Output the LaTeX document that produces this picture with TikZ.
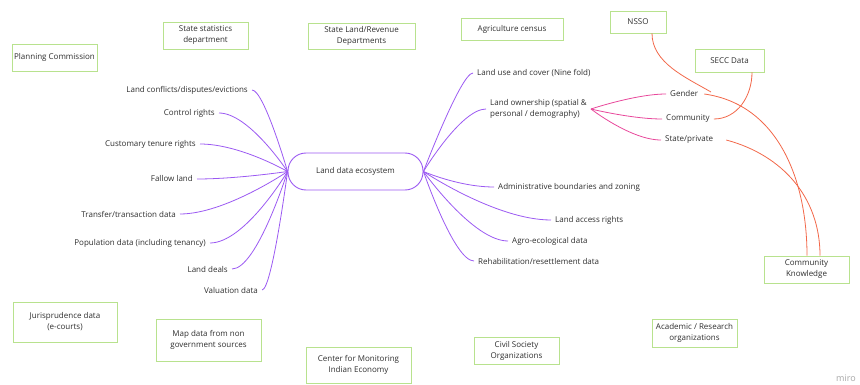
\documentclass[tikz,border=0pt]{standalone}
\usepackage{fontspec}
\setmainfont{Open Sans}
\definecolor{branchpurple}{HTML}{9B59F2}
\definecolor{subpink}{HTML}{E8489B}
\definecolor{linkorange}{HTML}{F2684A}
\definecolor{srcgreen}{HTML}{B8E28E}
\definecolor{inkgray}{HTML}{2E2E2E}

\begin{document}
\begin{tikzpicture}[x=1pt,y=-1pt,
    every node/.style={font=\fontsize{8}{11}\selectfont,text=inkgray},
    source/.style={draw=srcgreen,line width=.9pt,align=center,
      minimum width=85pt,minimum height=27pt,inner sep=1pt},
    leaf/.style={inner sep=4pt,align=left},
    limb/.style={draw=branchpurple,line width=.8pt},
    sublimb/.style={draw=subpink,line width=.8pt},
    link/.style={draw=linkorange,line width=.8pt},
    lefttwig/.style={out=0,in=180,out distance=#1,in distance=0pt},
    righttwig/.style={out=0,in=180,out distance=0pt,in distance=#1}]
      \useasboundingbox (0,0) rectangle (860,385);

      \node[source] (planning) at (54.5,57.5) {Planning Commission};
      \node[source] (statestat) at (205.5,35.5) {State statistics\\department};
      \node[source,minimum width=107pt,minimum height=26pt] (revenue) at (361.5,36)
        {State Land/Revenue\\Departments};
      \node[source,minimum width=102pt,minimum height=22pt] (agcensus) at (512,29) {Agriculture census};
      \node[source,minimum width=56pt,minimum height=22pt] (nsso) at (638,22) {NSSO};
      \node[source,minimum width=69pt,minimum height=23pt] (secc) at (729.5,60.5) {SECC Data};
      \node[source] (ck) at (806.5,269.5) {Community\\Knowledge};
      \node[source,minimum width=104pt,minimum height=40pt] (juris) at (65,322)
        {Jurisprudence data\\(e-courts)};
      \node[source,minimum width=105pt,minimum height=42pt] (mapdata) at (208.5,340)
        {Map data from non\\government sources};
      \node[source,minimum width=105pt,minimum height=36pt] (cmie) at (358.5,365)
        {Center for Monitoring\\Indian Economy};
      \node[source] (civil) at (516.5,350.5) {Civil Society\\Organizations};
      \node[source,minimum height=28pt] (academic) at (694.5,333) {Academic / Research\\organizations};

      \node[draw=branchpurple,line width=.9pt,rounded corners=18pt,
        minimum width=135pt,minimum height=37pt] (hub) at (355.5,171.5) {Land data ecosystem};

      \node[leaf,anchor=east] (conflicts) at (252,90) {Land conflicts/disputes/evictions};
      \node[leaf,anchor=east] (control) at (219,113) {Control rights};
      \node[leaf,anchor=east] (customary) at (200,144) {Customary tenure rights};
      \node[leaf,anchor=east] (fallow) at (197,179) {Fallow land};
      \node[leaf,anchor=east] (transfer) at (180,214) {Transfer/transaction data};
      \node[leaf,anchor=east] (population) at (210,243) {Population data (including tenancy)};
      \node[leaf,anchor=east] (deals) at (232,269) {Land deals};
      \node[leaf,anchor=east] (valuation) at (262,290) {Valuation data};

      \node[leaf,anchor=west] (landuse) at (473,73) {Land use and cover (Nine fold)};
      \node[leaf,anchor=west] (ownership) at (486,109) {Land ownership (spatial \&\\personal / demography)};
      \node[leaf,anchor=west] (admin) at (494,187) {Administrative boundaries and zoning};
      \node[leaf,anchor=west] (access) at (551,220) {Land access rights};
      \node[leaf,anchor=west] (agro) at (508,241) {Agro-ecological data};
      \node[leaf,anchor=west] (rehab) at (474,261) {Rehabilitation/resettlement data};

      \node[leaf,anchor=west] (gender) at (666,94) {Gender};
      \node[leaf,anchor=west] (community) at (662,119) {Community};
      \node[leaf,anchor=west] (statepvt) at (661,140) {State/private};

      \node[text=black!35,font=\fontsize{9}{9}\selectfont] (miro) at (846,378) {miro};

      \draw[limb] (conflicts.east) to[lefttwig=12] (hub.west);
      \draw[limb] (control.east) to[lefttwig=30] (hub.west);
      \draw[limb] (customary.east) to[lefttwig=40] (hub.west);
      \draw[limb] (fallow.east) to[lefttwig=40] (hub.west);
      \draw[limb] (transfer.east) to[lefttwig=45] (hub.west);
      \draw[limb] (population.east) to[lefttwig=35] (hub.west);
      \draw[limb] (deals.east) to[lefttwig=25] (hub.west);
      \draw[limb] (valuation.east) to[lefttwig=10] (hub.west);

      \draw[limb] (hub.east) to[righttwig=12] (landuse.west);
      \draw[limb] (hub.east) to[righttwig=25] (ownership.west);
      \draw[limb] (hub.east) to[righttwig=35] (admin.west);
      \draw[limb] (hub.east) to[righttwig=55] (access.west);
      \draw[limb] (hub.east) to[righttwig=35] (agro.west);
      \draw[limb] (hub.east) to[righttwig=20] (rehab.west);

      \draw[sublimb] (ownership.east) to[righttwig=30] (gender.west);
      \draw[sublimb] (ownership.east) to[righttwig=30] (community.west);
      \draw[sublimb] (ownership.east) to[righttwig=30] (statepvt.west);

      \coordinate (join) at (711,92);
      \draw[link] ([xshift=14pt]nsso.south) to[out=-90,in=150,looseness=.9] (join);
      \draw[link] ([xshift=22.5pt]secc.south) to[out=-90,in=0] (community.east);
      \draw[link] ([xshift=2pt]gender.east) to[out=-8,in=90] ([xshift=.5pt]ck.north);
      \draw[link] ([xshift=9pt]statepvt.east) to[out=-15,in=90] ([xshift=13.5pt]ck.north);
    \end{tikzpicture}
\end{document}
